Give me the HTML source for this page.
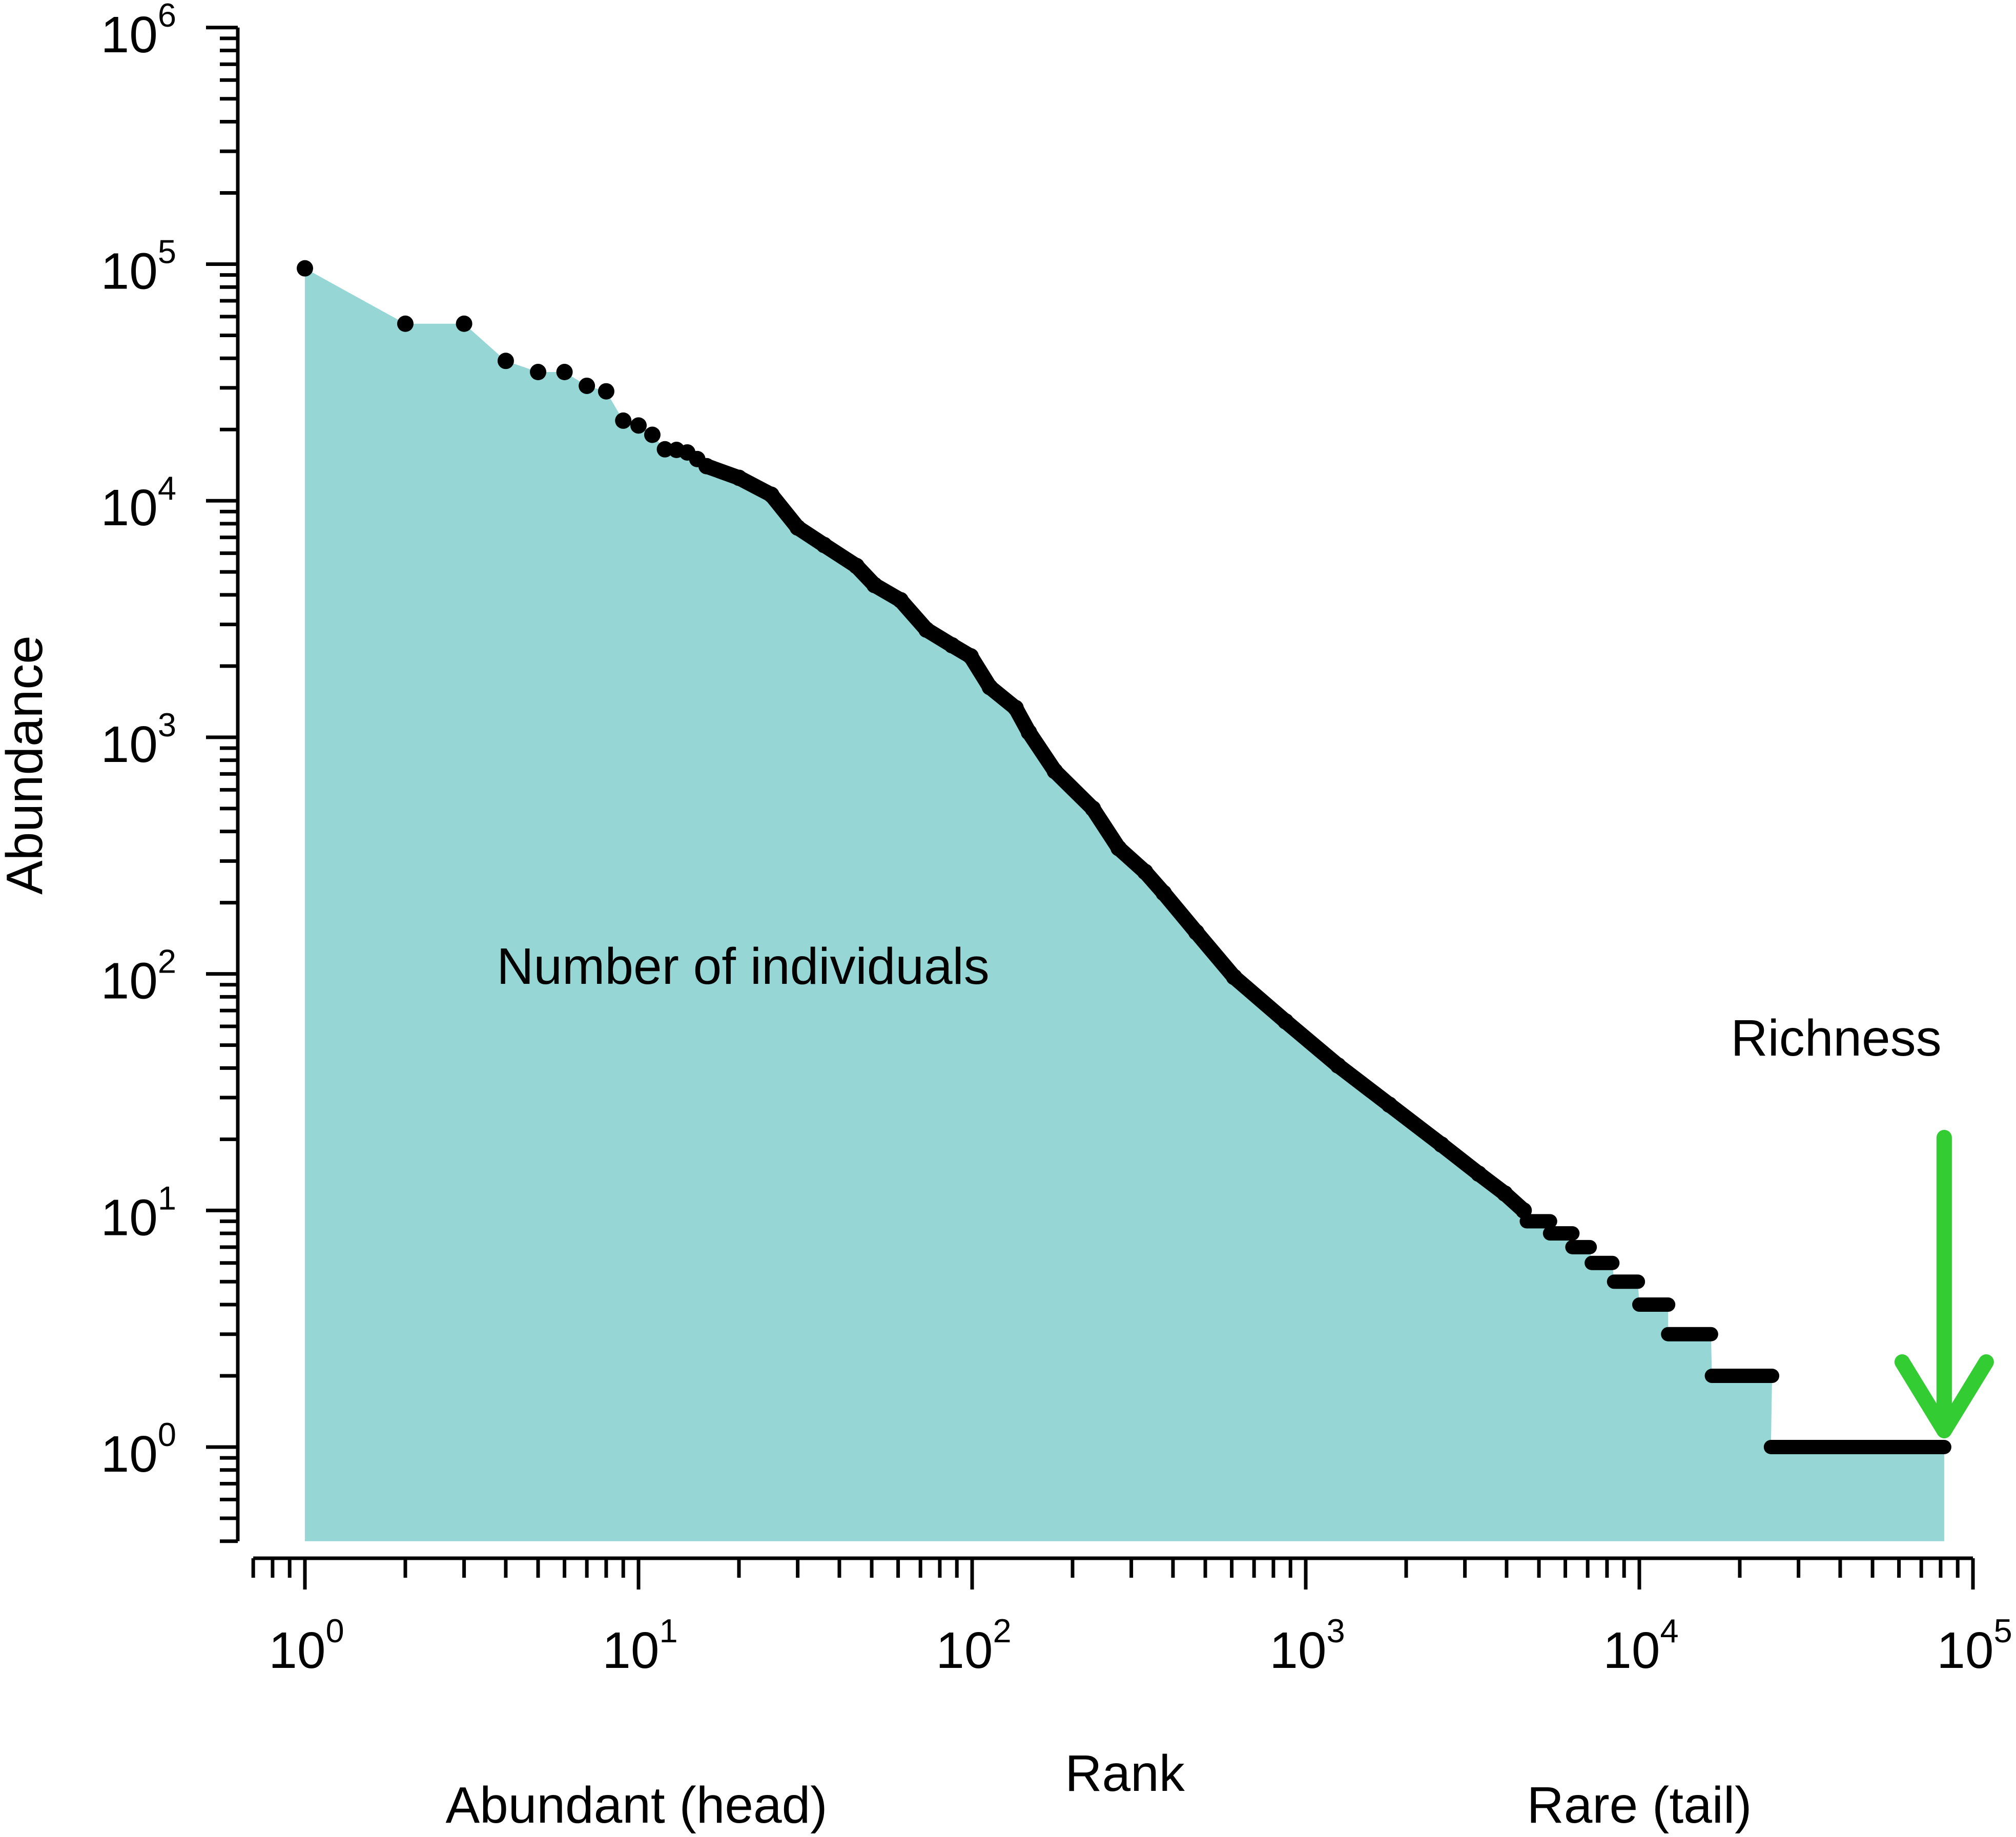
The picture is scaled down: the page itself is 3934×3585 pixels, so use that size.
<!DOCTYPE html>
<html><head><meta charset="utf-8"><style>
html,body{margin:0;padding:0;background:#fff}
svg{display:block;font-family:"Liberation Sans",sans-serif}
</style></head><body>
<svg id="chart" width="3934" height="3585" viewBox="0 0 3934 3585" xmlns="http://www.w3.org/2000/svg">
<g id="fill"></g>
<g id="axes"></g>
<g id="marks"></g>
<g id="labels"></g>
</svg>
<script>
const headRanks=[1,2,3,4,5,6,7,8,9,10,11,12,13,14,15,16,20,25,30,36,45,51,61,73,87,99,113,135,148,177,230,275,330,375,470,610,870,1250,1780,2550,3300,3950,4500];
const headAbund=[96000,56000,56000,39000,35000,35000,30600,29000,21800,20800,19000,16500,16400,16000,15000,14000,12500,10600,7700,6500,5300,4400,3800,2850,2450,2200,1630,1330,1050,720,500,340,270,220,150,97,63,41,28,19,14.3,11.8,10];
const stepAbund=[9,8,7,6,5,4,3,2,1];
const stepStart=[4600,5400,6300,7200,8400,10000,12200,16500,24800];
const stepEnd=[5400,6300,7100,8300,9900,12200,16400,25000,82000];
const yTicks=[0,1,2,3,4,5,6];
const xTicks=[0,1,2,3,4,5];
const richness=82000;

const NS="http://www.w3.org/2000/svg";
const X=r=>595+651*Math.log10(r);
const Y=v=>2824-461.7*Math.log10(v);
const BOTTOM=Y(0.4);
function mk(tag,attrs,parent){const e=document.createElementNS(NS,tag);for(const k in attrs)e.setAttribute(k,attrs[k]);parent.appendChild(e);return e;}
const gF=document.getElementById('fill'),gA=document.getElementById('axes'),gM=document.getElementById('marks'),gL=document.getElementById('labels');

let pts=[[X(1),BOTTOM]];
headRanks.forEach((r,i)=>pts.push([X(r),Y(headAbund[i])]));
stepAbund.forEach((a,i)=>{pts.push([X(stepStart[i]),Y(a)]);pts.push([X(stepEnd[i]),Y(a)]);});
pts.push([X(richness),BOTTOM]);
const poly=mk('polygon',{points:pts.map(p=>p.join(',')).join(' '),fill:'#96d7d6'},gF);



const ax=mk('line',{x1:464,y1:Y(1e6),x2:464,y2:BOTTOM,stroke:'#000','stroke-width':7},gA);

const xa=mk('line',{x1:X(0.7),y1:3041,x2:X(1e5),y2:3041,stroke:'#000','stroke-width':7},gA);

for(let d=-1;d<=6;d++){for(let m=1;m<=9;m++){const v=m*Math.pow(10,d);if(v<0.4-1e-9||v>1e6+1e-6)continue;
 const t=mk('line',{x1:m===1?402:429,y1:Y(v),x2:464,y2:Y(v),stroke:'#000','stroke-width':7},gA);
 }}
for(let d=-1;d<=5;d++){for(let m=1;m<=9;m++){const v=m*Math.pow(10,d);if(v<0.7-1e-9||v>1e5+1e-6)continue;
 const t=mk('line',{x1:X(v),y1:3041,x2:X(v),y2:m===1?3102:3079,stroke:'#000','stroke-width':7},gA);
 }}
yTicks.forEach(e=>{const t=mk('text',{x:344,y:Y(Math.pow(10,e))+48,'text-anchor':'end','font-size':100},gL);
 
 t.appendChild(document.createTextNode('10'));const s=mk('tspan',{dy:-50,'font-size':65},t);s.textContent=e;});
xTicks.forEach(e=>{const t=mk('text',{x:X(Math.pow(10,e))+3,y:3255,'text-anchor':'middle','font-size':100},gL);
 
 t.appendChild(document.createTextNode('10'));const s=mk('tspan',{dy:-50,'font-size':65},t);s.textContent=e;});

const cp=headRanks.slice(15).map((r,i)=>X(r)+','+Y(headAbund[i+15])).join(' ');
const pl=mk('polyline',{points:cp,fill:'none',stroke:'#000','stroke-width':30,'stroke-linecap':'round','stroke-linejoin':'round'},gM);

headRanks.forEach((r,i)=>{const c=mk('circle',{cx:X(r),cy:Y(headAbund[i]),r:16,fill:'#000'},gM);
 });
stepAbund.forEach((a,i)=>{const l=mk('line',{x1:X(stepStart[i]),y1:Y(a),x2:X(stepEnd[i]),y2:Y(a),stroke:'#000','stroke-width':28,'stroke-linecap':'round'},gM);
 });

const ag=mk('g',{stroke:'#33cc33','stroke-width':30,'stroke-linecap':'round',fill:'none'},gM);

const xr=X(richness);
mk('line',{x1:xr,y1:2220,x2:xr,y2:2790},ag);
mk('polyline',{points:`${xr-82},2658 ${xr},2792 ${xr+82},2658`,'stroke-linejoin':'round'},ag);

function label(txt,x,y,name,rot){const t=mk('text',{x:x,y:y,'text-anchor':'middle','font-size':100},gL);
 if(rot)t.setAttribute('transform',`rotate(-90 ${x} ${y})`);
 t.textContent=txt;}
label('Abundance',82,1493,'y-axis-title',true);
label('Rank',2195,3495,'x-axis-title');
label('Abundant (head)',1242,3557,'head-label');
label('Rare (tail)',3199,3557,'tail-label');
label('Number of individuals',1450,1920,'area-label');
label('Richness',3583,2060,'richness-label');
</script>
</body></html>
